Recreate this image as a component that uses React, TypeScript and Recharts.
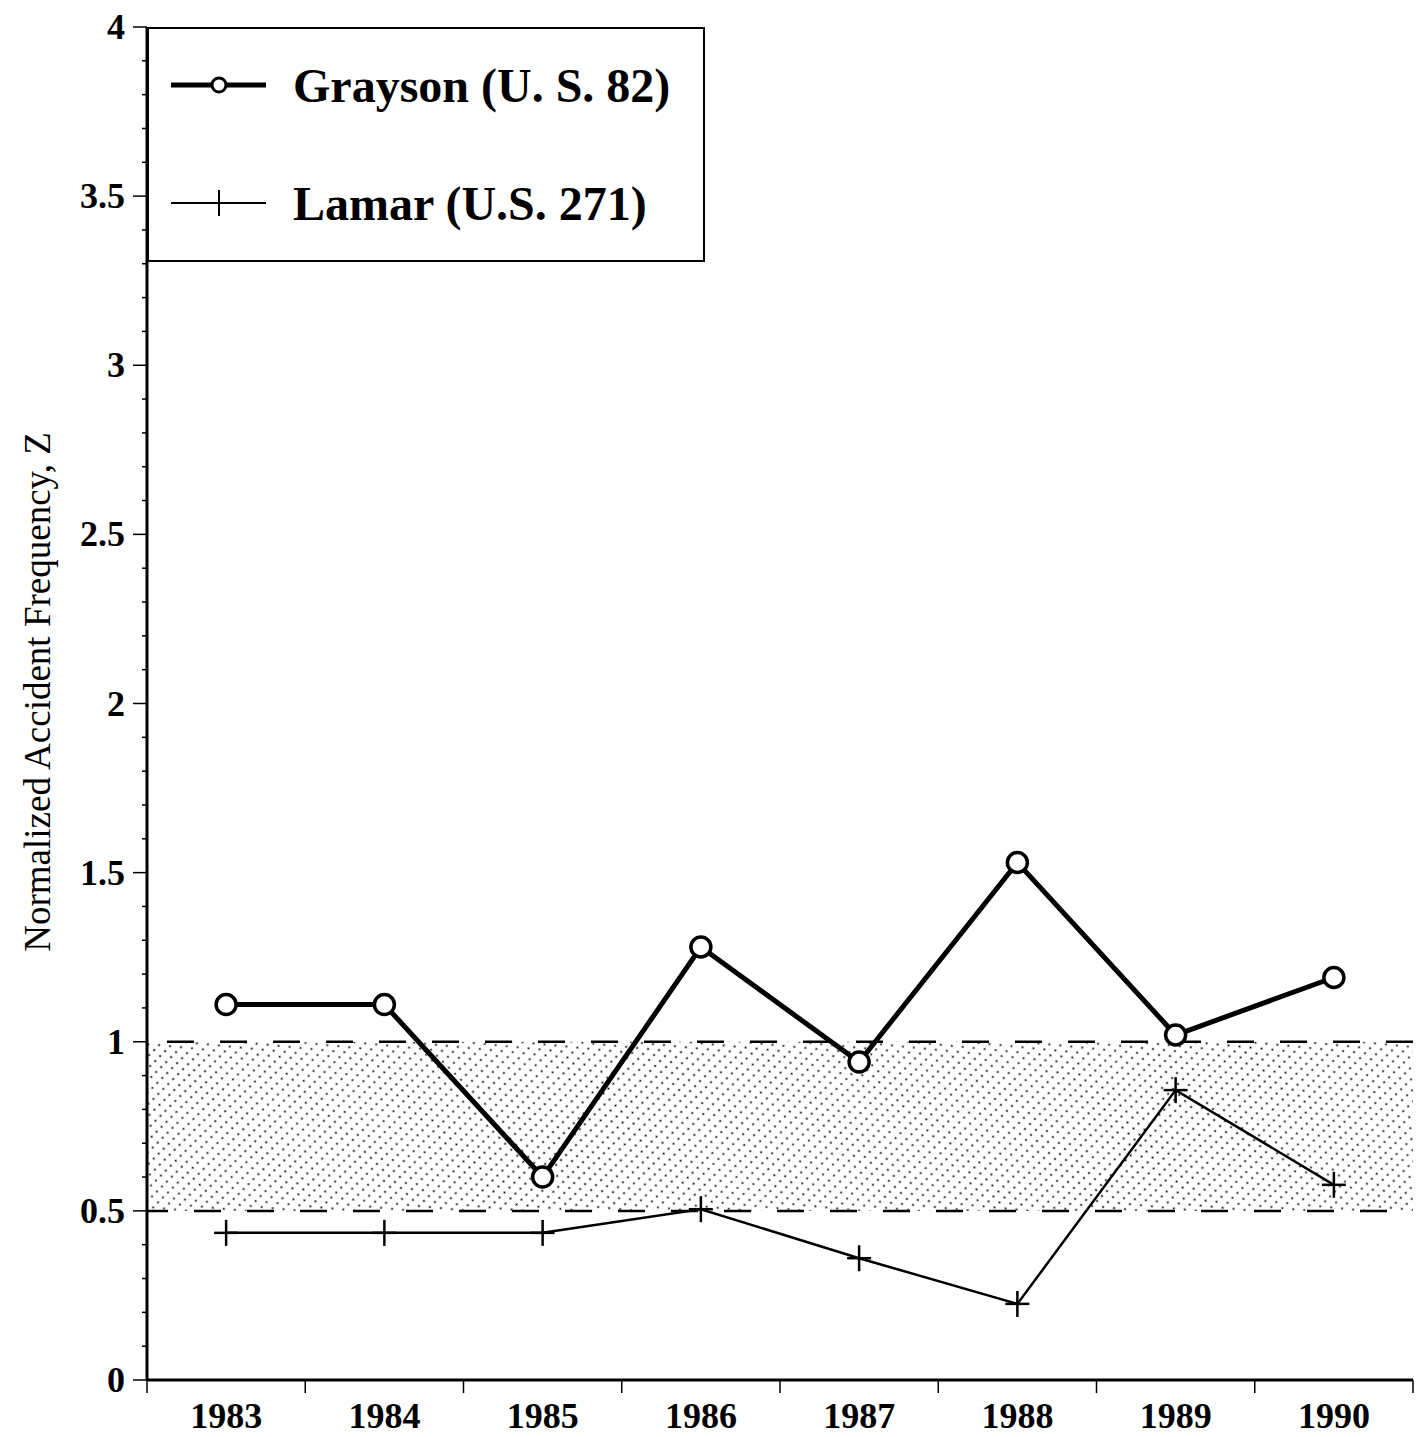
import { ComposedChart, Line, XAxis, YAxis, Legend, ReferenceArea, ReferenceLine } from "recharts";

const years = ["1983", "1984", "1985", "1986", "1987", "1988", "1989", "1990"];
const grayson = [1.11, 1.11, 0.6, 1.28, 0.94, 1.53, 1.02, 1.19];
const lamar = [0.435, 0.435, 0.435, 0.505, 0.36, 0.225, 0.857, 0.577];

const yTicks = [
  0, 0.1, 0.2, 0.3, 0.4, 0.5, 0.6, 0.7, 0.8, 0.9,
  1, 1.1, 1.2, 1.3, 1.4, 1.5, 1.6, 1.7, 1.8, 1.9,
  2, 2.1, 2.2, 2.3, 2.4, 2.5, 2.6, 2.7, 2.8, 2.9,
  3, 3.1, 3.2, 3.3, 3.4, 3.5, 3.6, 3.7, 3.8, 3.9, 4,
];
const bandLow = 0.5;
const bandHigh = 1;

const seriesNames = ["Grayson (U. S. 82)", "Lamar (U.S. 271)"];

const data = years.map((year, i) => ({ year, grayson: grayson[i], lamar: lamar[i] }));

const FONT = "'Liberation Serif', 'Times New Roman', serif";
const BAND = (1413 - 147) / years.length;

function YTick(props: any) {
  const { x, y, payload } = props;
  const v = payload.value;
  const major = Math.abs(v * 2 - Math.round(v * 2)) < 1e-6;
  return (
    <g>
      <line x1={x - (major ? 14 : 5)} x2={x} y1={y} y2={y} stroke="#000" strokeWidth={1.5} />
      {major && (
        <text x={x - 22} y={y} textAnchor="end" dominantBaseline="central" fontFamily={FONT} fontWeight="bold" fontSize={36} fill="#000">
          {String(v)}
        </text>
      )}
    </g>
  );
}

function XTick(props: any) {
  const { x, y, payload, index } = props;
  const left = x - BAND / 2;
  return (
    <g>
      <line x1={left} x2={left} y1={y} y2={y + 13} stroke="#000" strokeWidth={1.5} />
      {index === years.length - 1 && (
        <line x1={x + BAND / 2} x2={x + BAND / 2} y1={y} y2={y + 13} stroke="#000" strokeWidth={1.5} />
      )}
      <text x={x} y={y + 48} textAnchor="middle" fontFamily={FONT} fontWeight="bold" fontSize={36} fill="#000">
        {payload.value}
      </text>
    </g>
  );
}

function CircleDot(props: any) {
  const { cx, cy, index } = props;
  return <circle key={`c-${index}`} cx={cx} cy={cy} r={10} fill="#fff" stroke="#000" strokeWidth={3.5} />;
}

function PlusDot(props: any) {
  const { cx, cy, index } = props;
  return (
    <g key={`p-${index}`}>
      <line x1={cx - 12} x2={cx + 12} y1={cy} y2={cy} stroke="#000" strokeWidth={2.5} />
      <line x1={cx} x2={cx} y1={cy - 13} y2={cy + 13} stroke="#000" strokeWidth={2.5} />
    </g>
  );
}

function LegendBox() {
  return (
    <div style={{ width: 558, height: 235, border: "2.5px solid #000", boxSizing: "border-box", background: "#fff" }}>
      <svg width={553} height={230}>
        <line x1={22} x2={117} y1={56} y2={56} stroke="#000" strokeWidth={5} />
        <circle cx={70} cy={56} r={7} fill="#fff" stroke="#000" strokeWidth={3} />
        <text x={144} y={73} fontFamily={FONT} fontWeight="bold" fontSize={48} fill="#000">
          {seriesNames[0]}
        </text>
        <line x1={22} x2={117} y1={174} y2={174} stroke="#000" strokeWidth={2} />
        <line x1={70} x2={70} y1={161} y2={187} stroke="#000" strokeWidth={2} />
        <text x={144} y={191} fontFamily={FONT} fontWeight="bold" fontSize={48} fill="#000">
          {seriesNames[1]}
        </text>
      </svg>
    </div>
  );
}

export default function App() {
  return (
    <div style={{ position: "absolute", left: 0, top: 0, width: 1419, height: 1437, background: "#fff" }}>
      <ComposedChart width={1419} height={1437} data={data} margin={{ top: 27, right: 6, bottom: 0, left: 0 }}>
        <defs>
          <pattern id="hatch" width={8.5} height={7} patternUnits="userSpaceOnUse" patternTransform="rotate(45)">
            <circle cx={1.5} cy={3.5} r={1.05} fill="#000" />
          </pattern>
        </defs>
        <XAxis
          xAxisId="main"
          dataKey="year"
          height={57}
          padding={{ left: BAND / 2, right: BAND / 2 }}
          stroke="#000"
          strokeWidth={3}
          tickLine={false}
          tickSize={0}
          tickMargin={0}
          tick={<XTick />}
          interval={0}
        />
        <XAxis
          xAxisId="top"
          type="number"
          orientation="top"
          domain={[0, years.length]}
          allowDataOverflow
          height={0}
          tick={false}
          tickLine={false}
          stroke="#000"
          strokeWidth={3}
        />
        <YAxis
          yAxisId="main"
          width={147}
          domain={[0, 4]}
          ticks={yTicks}
          interval={0}
          stroke="#000"
          strokeWidth={3}
          tickLine={false}
          tickSize={0}
          tickMargin={0}
          tick={<YTick />}
          label={{
            content: () => (
              <text x={50} y={692} transform="rotate(-90 50 692)" textAnchor="middle" fontFamily={FONT} fontSize={37} fill="#000">
                Normalized Accident Frequency, Z
              </text>
            ),
          }}
        />
        <YAxis yAxisId="right" orientation="right" width={0} domain={[0, 4]} tick={false} tickLine={false} stroke="#000" strokeWidth={2.5} />
        <ReferenceArea xAxisId="top" yAxisId="main" y1={bandLow} y2={bandHigh} fill="url(#hatch)" fillOpacity={1} stroke="none" />
        <ReferenceLine xAxisId="top" yAxisId="main" y={bandHigh} stroke="#000" strokeWidth={2.5} strokeDasharray="27 26" strokeDashoffset={33} />
        <ReferenceLine xAxisId="top" yAxisId="main" y={bandLow} stroke="#000" strokeWidth={2.5} strokeDasharray="27 26" strokeDashoffset={6} />
        <Legend layout="vertical" align="center" verticalAlign="middle" wrapperStyle={{ left: 147, top: 27, width: 558, height: 235 }} content={() => <LegendBox />} />
        <Line
          xAxisId="main"
          yAxisId="main"
          type="linear"
          dataKey="lamar"
          name={seriesNames[1]}
          stroke="#000"
          strokeWidth={2.5}
          dot={PlusDot}
          isAnimationActive={false}
        />
        <Line
          xAxisId="main"
          yAxisId="main"
          type="linear"
          dataKey="grayson"
          name={seriesNames[0]}
          stroke="#000"
          strokeWidth={5}
          dot={CircleDot}
          isAnimationActive={false}
        />
      </ComposedChart>
    </div>
  );
}
